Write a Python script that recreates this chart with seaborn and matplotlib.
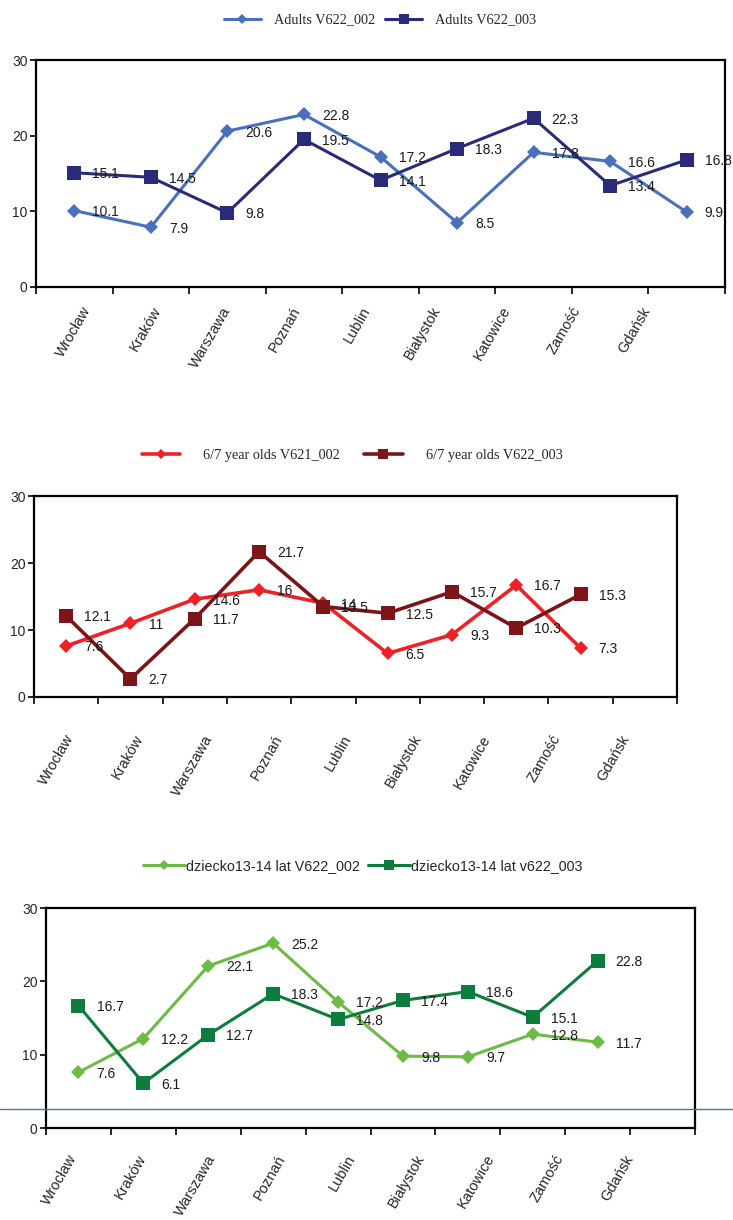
import numpy as np
import pandas as pd
import seaborn as sns
import matplotlib
matplotlib.use("Agg")
import matplotlib.pyplot as plt
from matplotlib.lines import Line2D

sns.set_theme(style="white")
plt.rcParams["font.family"] = ["Liberation Sans", "DejaVu Sans"]

# Cities on the category axis
cities = ["Wrocław", "Kraków", "Warszawa", "Poznań", "Lublin",
          "Białystok", "Katowice", "Zamość", "Gdańsk"]

# Adults
adults_002 = [10.1, 7.9, 20.6, 22.8, 17.2, 8.5, 17.8, 16.6, 9.9]
adults_003 = [15.1, 14.5, 9.8, 19.5, 14.1, 18.3, 22.3, 13.4, 16.8]

# 6/7 year olds
kids67_002 = [7.6, 11, 14.6, 16, 14, 6.5, 9.3, 16.7, 7.3]
kids67_003 = [12.1, 2.7, 11.7, 21.7, 13.5, 12.5, 15.7, 10.3, 15.3]

# 13-14 year olds
teen_002 = [7.6, 12.2, 22.1, 25.2, 17.2, 9.8, 9.7, 12.8, 11.7]
teen_003 = [16.7, 6.1, 12.7, 18.3, 14.8, 17.4, 18.6, 15.1, 22.8]

yticks = [0, 10, 20, 30]

W, H = 733, 1220
fig = plt.figure(figsize=(W / 100, H / 100), dpi=100)


def px_axes(left, top, right, bottom):
    return fig.add_axes([left / W, 1 - bottom / H, (right - left) / W, (bottom - top) / H])


panels = [
    dict(box=(36, 60, 725, 287), slots=9,
         series=[("Adults V622_002", adults_002, "#4a6fbb", "D", 7.5, 2.2),
                 ("Adults V622_003", adults_003, "#2a2b78", "s", 10.5, 2.2)],
         legend=dict(center=(380, 20), family=["Liberation Serif"], size=10.3,
                     handlelength=2.6, handletextpad=0.9, columnspacing=0.7),
         lab_start=0.17, lab_step=0.914, lab_pad=15),
    dict(box=(34, 496, 677, 697), slots=10,
         series=[("6/7 year olds V621_002", kids67_002, "#ee2126", "D", 7.5, 2.6),
                 ("6/7 year olds V622_003", kids67_003, "#7c1418", "s", 10.5, 2.6)],
         legend=dict(center=(352, 455), family=["Liberation Serif"], size=10.3,
                     handlelength=2.7, handletextpad=1.6, columnspacing=1.7),
         lab_start=0.06, lab_step=1.082, lab_pad=28),
    dict(box=(46, 908, 695, 1128), slots=10,
         series=[("dziecko13-14 lat V622_002", teen_002, "#6cbb45", "D", 7.5, 2.2),
                 ("dziecko13-14 lat v622_003", teen_003, "#0c7d3c", "s", 10.0, 2.2)],
         legend=dict(center=(363, 866), family=["Liberation Sans"], size=10.3,
                     handlelength=2.9, handletextpad=0.1, columnspacing=0.6),
         lab_start=-0.08, lab_step=1.072, lab_pad=20),
]

for p in panels:
    ax = px_axes(*p["box"])
    x = np.arange(len(cities))
    for name, vals, color, marker, ms, lw in p["series"]:
        sns.lineplot(x=x, y=vals, ax=ax, color=color, marker=marker,
                     markersize=ms, linewidth=lw, markeredgewidth=0,
                     sort=False, label=name)
        for xi, v in zip(x, vals):
            ax.annotate(f"{v:g}", (xi, v), xytext=(13, -1),
                        textcoords="offset points", ha="left", va="center",
                        fontsize=10, color="#1a1a1a")

    ax.set_xlim(-0.5, p["slots"] - 0.5)
    ax.set_ylim(0, 30)
    ax.set_yticks(yticks)
    ax.set_yticklabels([str(t) for t in yticks], fontsize=10)
    ax.set_xticks(np.arange(p["slots"] + 1) - 0.5)
    ax.set_xticklabels([])
    lab_pos = p["lab_start"] + p["lab_step"] * np.arange(len(cities))
    ax.set_xticks(lab_pos, minor=True)
    ax.set_xticklabels(cities, minor=True, rotation=60, ha="right",
                       va="center", rotation_mode="anchor", fontsize=10.5)
    ax.tick_params(axis="x", which="major", direction="out", length=5,
                   width=1.2, color="black", bottom=True)
    ax.tick_params(axis="x", which="minor", length=0, pad=p["lab_pad"],
                   bottom=True)
    ax.tick_params(axis="y", which="major", direction="out", length=4,
                   width=1.2, color="black", left=True, pad=2)
    ax.set_xlabel("")
    ax.set_ylabel("")
    for s in ax.spines.values():
        s.set_color("black")
        s.set_linewidth(1.6)
        s.set_visible(True)
    ax.grid(False)

    lg = p["legend"]
    leg = ax.legend(loc="center", ncol=2, frameon=False,
                    bbox_to_anchor=(lg["center"][0] / W, 1 - lg["center"][1] / H),
                    bbox_transform=fig.transFigure,
                    prop=dict(family=lg["family"], size=lg["size"]),
                    handlelength=lg["handlelength"],
                    handletextpad=lg["handletextpad"],
                    columnspacing=lg["columnspacing"])
    for h in leg.legend_handles:
        h.set_markersize(5.5 if h.get_marker() == "D" else 7)

# thin rule crossing the lower panel
fig.add_artist(Line2D([0, 1], [1 - 1109 / H, 1 - 1109 / H],
                      transform=fig.transFigure, color="#4a72b8", linewidth=1.0))

fig.savefig("out.png", dpi=100, facecolor="white")
